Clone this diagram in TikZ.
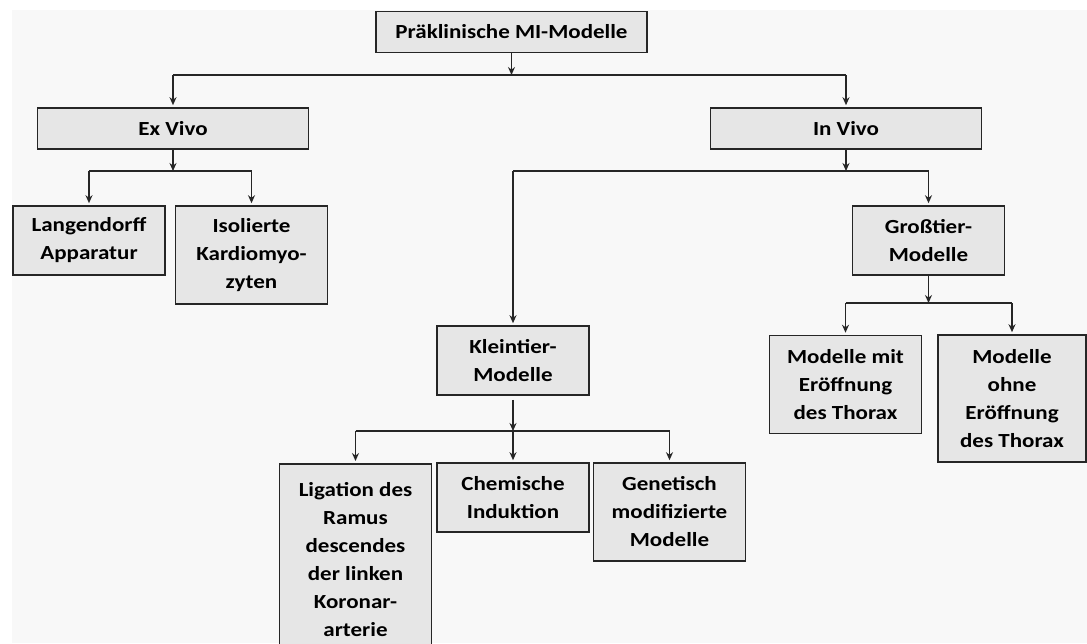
\documentclass[tikz,border=0pt]{standalone}
\usepackage{fontspec}
\setmainfont{Carlito}[FakeStretch=1.15]
\usetikzlibrary{arrows.meta}
\definecolor{boxgray}{HTML}{E6E6E6}
\definecolor{paper}{HTML}{F8F8F8}
\tikzset{
  box/.style={draw=black!85, line width=1.6pt, fill=boxgray, align=center, inner sep=2pt,
    font=\fontsize{20}{28}\selectfont\bfseries, minimum width=152pt, minimum height=69pt},
  wide/.style={minimum width=271pt, minimum height=41pt},
  tall/.style={minimum height=98pt},
  link/.style={line width=1.6pt, draw=black!85}
}
\begin{document}
\begin{tikzpicture}[x=1pt, y=-1pt, >={Stealth[length=8pt,width=7pt]}]
\useasboundingbox (0,0) rectangle (1087,643);
\clip (0,0) rectangle (1087,643);
\fill[paper] (12,10) rectangle (1087,643);

\node[box,wide] (pre) at (511.5,32){Präklinische MI-Modelle};
\node[box,wide] (ex) at (173,128.5){Ex Vivo};
\node[box,wide] (in) at (846,128.5){In Vivo};
\node[box] (lang) at (89,240.5){Langendorff\\Apparatur};
\node[box,tall] (iso) at (251.5,255){Isolierte\\Kardiomyo-\\zyten};
\node[box] (gross) at (928.5,240.5){Großtier-\\Modelle};
\node[box] (klein) at (513,360.5){Kleintier-\\Modelle};
\node[box,tall] (mit) at (845.5,384.5){Modelle mit\\Eröffnung\\des Thorax};
\node[box,minimum width=148pt,minimum height=127pt] (ohne) at (1012,398.5){Modelle\\ohne\\Eröffnung\\des Thorax};
\node[box,anchor=north,minimum height=192pt] (lig) at (355.5,463){Ligation des\\Ramus\\descendes\\der linken\\Koronar-\\arterie};
\node[box] (chem) at (513,497.5){Chemische\\Induktion};
\node[box,tall] (gen) at (669.5,512){Genetisch\\modifizierte\\Modelle};

\coordinate (j1) at (511.5,75);
\coordinate (j2) at (173,171);
\coordinate (j3) at (846,171);
\coordinate (j4) at (928.5,303);
\coordinate (j5) at (513,431);

\draw[link,->] (pre) -- (j1);
\draw[link] (ex.north |- j1) -- (in.north |- j1);
\draw[link,->,shorten >=2pt] (ex.north |- j1) -- (ex.north);
\draw[link,->,shorten >=2pt] (in.north |- j1) -- (in.north);

\draw[link,->] (ex) -- (j2);
\draw[link] (lang.north |- j2) -- (iso.north |- j2);
\draw[link,->,shorten >=2pt] (lang.north |- j2) -- (lang.north);
\draw[link,->,shorten >=2pt] (iso.north |- j2) -- (iso.north);

\draw[link,->] (in) -- (j3);
\draw[link] (klein.north |- j3) -- (gross.north |- j3);
\draw[link,->,shorten >=2pt] (klein.north |- j3) -- (klein.north);
\draw[link,->,shorten >=2pt] (gross.north |- j3) -- (gross.north);

\draw[link,->] (gross) -- (j4);
\draw[link] (mit.north |- j4) -- (ohne.north |- j4);
\draw[link,->,shorten >=2pt] (mit.north |- j4) -- (mit.north);
\draw[link,->,shorten >=2pt] (ohne.north |- j4) -- (ohne.north);

\draw[link,->,shorten <=4pt] (klein) -- (j5);
\draw[link] (lig.north |- j5) -- (gen.north |- j5);
\draw[link,->,shorten >=2pt] (lig.north |- j5) -- (lig.north);
\draw[link,->,shorten >=2pt] (chem.north |- j5) -- (chem.north);
\draw[link,->,shorten >=2pt] (gen.north |- j5) -- (gen.north);
\end{tikzpicture}
\end{document}
